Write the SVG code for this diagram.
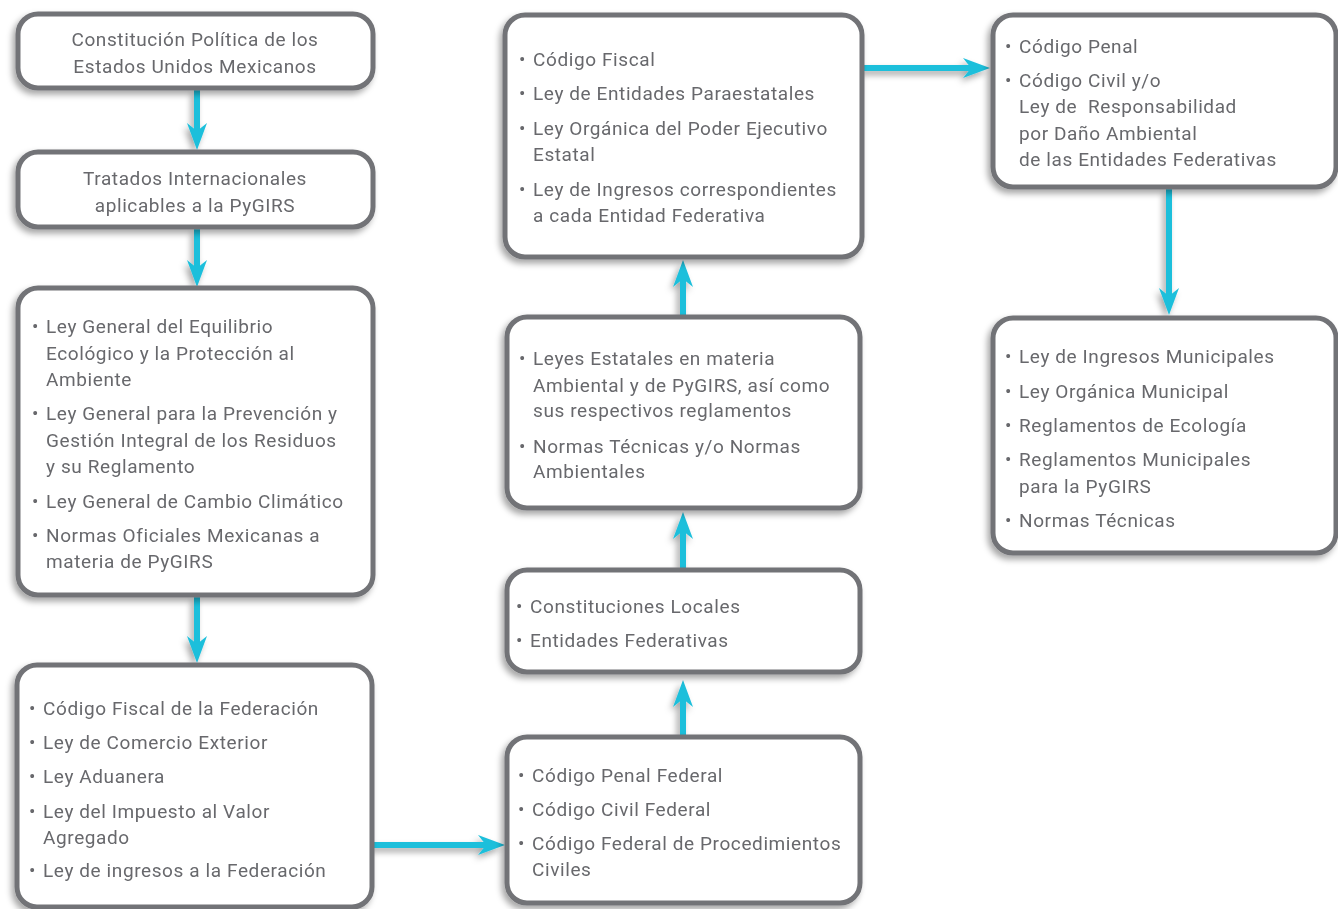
<svg xmlns="http://www.w3.org/2000/svg" width="1338" height="909" viewBox="0 0 1338 909">
<style>
.box{fill:#fff;stroke:#727377;stroke-width:5}
.t{font-family:Roboto,"Liberation Sans",sans-serif;font-size:19px;letter-spacing:0.6px;fill:#67686c}
.c{text-anchor:middle}
.b{font-size:19px;letter-spacing:0}
.ar{fill:none;stroke:#1fbfdb;stroke-width:6;marker-end:url(#ah)}
</style>
<defs>
<filter id="sh" x="-10%" y="-10%" width="120%" height="130%">
<feDropShadow dx="-3" dy="4" stdDeviation="3" flood-color="#000" flood-opacity="0.35"/>
</filter>
<marker id="ah" markerUnits="userSpaceOnUse" viewBox="-10 -12 32 24" markerWidth="32" markerHeight="24" refX="0" refY="0" orient="auto">
<path d="M19,0 L-8,-10 L0,0 L-8,10 Z" fill="#1fbfdb"/>
</marker>
</defs>

<g id="connectors" filter="url(#sh)">
<path class="ar" d="M197,90 V131"/>
<path class="ar" d="M197,229 V268"/>
<path class="ar" d="M197,597 V644"/>
<path class="ar" d="M374,845 H486"/>
<path class="ar" d="M683,735 V699"/>
<path class="ar" d="M683,568 V531"/>
<path class="ar" d="M683,315 V279"/>
<path class="ar" d="M864,68 H971"/>
<path class="ar" d="M1169,189 V296"/>
</g>

<g id="n1" filter="url(#sh)">
<rect class="box" x="18" y="14" width="355" height="74" rx="20"/>
<text class="t c" x="195"><tspan x="195" y="46">Constitución Política de los</tspan><tspan x="195" y="73">Estados Unidos Mexicanos</tspan></text>
</g>

<g id="n2" filter="url(#sh)">
<rect class="box" x="18" y="152" width="355" height="75" rx="20"/>
<text class="t c" x="195"><tspan x="195" y="185">Tratados Internacionales</tspan><tspan x="195" y="212">aplicables a la PyGIRS</tspan></text>
</g>

<g id="n3" filter="url(#sh)">
<rect class="box" x="18" y="288" width="355" height="307" rx="20"/>
<text class="t b"><tspan x="32" y="333">•</tspan><tspan x="32" y="420">•</tspan><tspan x="32" y="508">•</tspan><tspan x="32" y="542">•</tspan></text>
<text class="t"><tspan x="46" y="333">Ley General del Equilibrio</tspan><tspan x="46" y="360">Ecológico y la Protección al</tspan><tspan x="46" y="386">Ambiente</tspan><tspan x="46" y="420">Ley General para la Prevención y</tspan><tspan x="46" y="447">Gestión Integral de los Residuos</tspan><tspan x="46" y="473">y su Reglamento</tspan><tspan x="46" y="508">Ley General de Cambio Climático</tspan><tspan x="46" y="542">Normas Oficiales Mexicanas a</tspan><tspan x="46" y="568">materia de PyGIRS</tspan></text>
</g>

<g id="n4" filter="url(#sh)">
<rect class="box" x="17" y="665" width="355" height="242" rx="20"/>
<text class="t b"><tspan x="29" y="715">•</tspan><tspan x="29" y="749">•</tspan><tspan x="29" y="783">•</tspan><tspan x="29" y="818">•</tspan><tspan x="29" y="877">•</tspan></text>
<text class="t"><tspan x="43" y="715">Código Fiscal de la Federación</tspan><tspan x="43" y="749">Ley de Comercio Exterior</tspan><tspan x="43" y="783">Ley Aduanera</tspan><tspan x="43" y="818">Ley del Impuesto al Valor</tspan><tspan x="43" y="844">Agregado</tspan><tspan x="43" y="877">Ley de ingresos a la Federación</tspan></text>
</g>

<g id="n5" filter="url(#sh)">
<rect class="box" x="507" y="737" width="353" height="166" rx="20"/>
<text class="t b"><tspan x="518" y="782">•</tspan><tspan x="518" y="816">•</tspan><tspan x="518" y="850">•</tspan></text>
<text class="t"><tspan x="532" y="782">Código Penal Federal</tspan><tspan x="532" y="816">Código Civil Federal</tspan><tspan x="532" y="850">Código Federal de Procedimientos</tspan><tspan x="532" y="876">Civiles</tspan></text>
</g>

<g id="n6" filter="url(#sh)">
<rect class="box" x="507" y="570" width="353" height="102" rx="20"/>
<text class="t b"><tspan x="516" y="613">•</tspan><tspan x="516" y="647">•</tspan></text>
<text class="t"><tspan x="530" y="613">Constituciones Locales</tspan><tspan x="530" y="647">Entidades Federativas</tspan></text>
</g>

<g id="n7" filter="url(#sh)">
<rect class="box" x="507" y="317" width="353" height="191" rx="20"/>
<text class="t b"><tspan x="519" y="365">•</tspan><tspan x="519" y="453">•</tspan></text>
<text class="t"><tspan x="533" y="365">Leyes Estatales en materia</tspan><tspan x="533" y="392">Ambiental y de PyGIRS, así como</tspan><tspan x="533" y="417">sus respectivos reglamentos</tspan><tspan x="533" y="453">Normas Técnicas y/o Normas</tspan><tspan x="533" y="478">Ambientales</tspan></text>
</g>

<g id="n8" filter="url(#sh)">
<rect class="box" x="505" y="15" width="357" height="242" rx="20"/>
<text class="t b"><tspan x="519" y="66">•</tspan><tspan x="519" y="100">•</tspan><tspan x="519" y="135">•</tspan><tspan x="519" y="196">•</tspan></text>
<text class="t"><tspan x="533" y="66">Código Fiscal</tspan><tspan x="533" y="100">Ley de Entidades Paraestatales</tspan><tspan x="533" y="135">Ley Orgánica del Poder Ejecutivo</tspan><tspan x="533" y="161">Estatal</tspan><tspan x="533" y="196">Ley de Ingresos correspondientes</tspan><tspan x="533" y="222">a cada Entidad Federativa</tspan></text>
</g>

<g id="n9" filter="url(#sh)">
<rect class="box" x="993" y="15" width="343" height="172" rx="20"/>
<text class="t b"><tspan x="1005" y="53">•</tspan><tspan x="1005" y="87">•</tspan></text>
<text class="t" xml:space="preserve"><tspan x="1019" y="53">Código Penal</tspan><tspan x="1019" y="87">Código Civil y/o</tspan><tspan x="1019" y="113">Ley de  Responsabilidad</tspan><tspan x="1019" y="140">por Daño Ambiental</tspan><tspan x="1019" y="166">de las Entidades Federativas</tspan></text>
</g>

<g id="n10" filter="url(#sh)">
<rect class="box" x="993" y="318" width="343" height="235" rx="20"/>
<text class="t b"><tspan x="1005" y="363">•</tspan><tspan x="1005" y="398">•</tspan><tspan x="1005" y="432">•</tspan><tspan x="1005" y="466">•</tspan><tspan x="1005" y="527">•</tspan></text>
<text class="t"><tspan x="1019" y="363">Ley de Ingresos Municipales</tspan><tspan x="1019" y="398">Ley Orgánica Municipal</tspan><tspan x="1019" y="432">Reglamentos de Ecología</tspan><tspan x="1019" y="466">Reglamentos Municipales</tspan><tspan x="1019" y="493">para la PyGIRS</tspan><tspan x="1019" y="527">Normas Técnicas</tspan></text>
</g>
</svg>
